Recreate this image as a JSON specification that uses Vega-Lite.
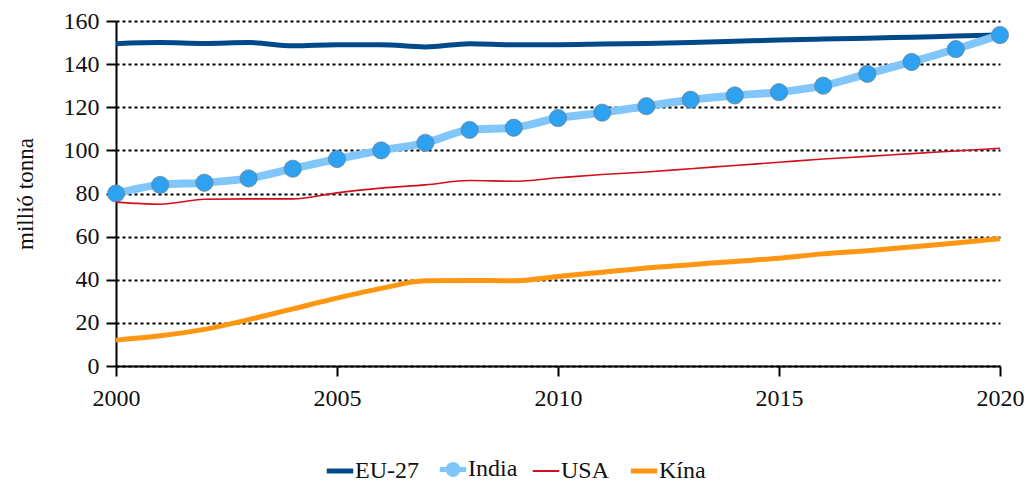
{
  "$schema": "https://vega.github.io/schema/vega-lite/v6.json",
  "autosize": {"type": "none"},
  "width": 884,
  "height": 345,
  "padding": {"left": 116, "top": 21, "right": 28, "bottom": 119},
  "background": "white",
  "config": {
    "view": {"stroke": null},
    "font": "Liberation Serif",
    "axis": {"labelFont": "Liberation Serif", "titleFont": "Liberation Serif", "labelColor": "#111", "titleColor": "#111"},
    "legend": {"labelFont": "Liberation Serif"}
  },
  "data": {"values": [
    {"year": 2000, "series": "EU-27", "value": 149.5},
    {"year": 2001, "series": "EU-27", "value": 150},
    {"year": 2002, "series": "EU-27", "value": 149.6},
    {"year": 2003, "series": "EU-27", "value": 150},
    {"year": 2004, "series": "EU-27", "value": 148.5},
    {"year": 2005, "series": "EU-27", "value": 149},
    {"year": 2006, "series": "EU-27", "value": 149},
    {"year": 2007, "series": "EU-27", "value": 148},
    {"year": 2008, "series": "EU-27", "value": 149.5},
    {"year": 2009, "series": "EU-27", "value": 149},
    {"year": 2010, "series": "EU-27", "value": 149},
    {"year": 2011, "series": "EU-27", "value": 149.3},
    {"year": 2012, "series": "EU-27", "value": 149.6},
    {"year": 2013, "series": "EU-27", "value": 150},
    {"year": 2014, "series": "EU-27", "value": 150.6},
    {"year": 2015, "series": "EU-27", "value": 151.2},
    {"year": 2016, "series": "EU-27", "value": 151.6},
    {"year": 2017, "series": "EU-27", "value": 152},
    {"year": 2018, "series": "EU-27", "value": 152.5},
    {"year": 2019, "series": "EU-27", "value": 153},
    {"year": 2020, "series": "EU-27", "value": 153.5},
    {"year": 2000, "series": "India", "value": 80},
    {"year": 2001, "series": "India", "value": 84},
    {"year": 2002, "series": "India", "value": 85},
    {"year": 2003, "series": "India", "value": 87},
    {"year": 2004, "series": "India", "value": 91.5},
    {"year": 2005, "series": "India", "value": 96},
    {"year": 2006, "series": "India", "value": 100},
    {"year": 2007, "series": "India", "value": 103.5},
    {"year": 2008, "series": "India", "value": 109.5},
    {"year": 2009, "series": "India", "value": 110.5},
    {"year": 2010, "series": "India", "value": 115},
    {"year": 2011, "series": "India", "value": 117.5},
    {"year": 2012, "series": "India", "value": 120.5},
    {"year": 2013, "series": "India", "value": 123.5},
    {"year": 2014, "series": "India", "value": 125.5},
    {"year": 2015, "series": "India", "value": 127},
    {"year": 2016, "series": "India", "value": 130},
    {"year": 2017, "series": "India", "value": 135.5},
    {"year": 2018, "series": "India", "value": 141},
    {"year": 2019, "series": "India", "value": 147},
    {"year": 2020, "series": "India", "value": 153.5},
    {"year": 2000, "series": "USA", "value": 76},
    {"year": 2001, "series": "USA", "value": 75},
    {"year": 2002, "series": "USA", "value": 77.3},
    {"year": 2003, "series": "USA", "value": 77.5},
    {"year": 2004, "series": "USA", "value": 77.5},
    {"year": 2005, "series": "USA", "value": 80.3},
    {"year": 2006, "series": "USA", "value": 82.5},
    {"year": 2007, "series": "USA", "value": 84},
    {"year": 2008, "series": "USA", "value": 86},
    {"year": 2009, "series": "USA", "value": 85.7},
    {"year": 2010, "series": "USA", "value": 87.3},
    {"year": 2011, "series": "USA", "value": 88.8},
    {"year": 2012, "series": "USA", "value": 90},
    {"year": 2013, "series": "USA", "value": 91.5},
    {"year": 2014, "series": "USA", "value": 93},
    {"year": 2015, "series": "USA", "value": 94.5},
    {"year": 2016, "series": "USA", "value": 96},
    {"year": 2017, "series": "USA", "value": 97.2},
    {"year": 2018, "series": "USA", "value": 98.5},
    {"year": 2019, "series": "USA", "value": 99.7},
    {"year": 2020, "series": "USA", "value": 101},
    {"year": 2000, "series": "Kína", "value": 12},
    {"year": 2001, "series": "Kína", "value": 14},
    {"year": 2002, "series": "Kína", "value": 17},
    {"year": 2003, "series": "Kína", "value": 21.5},
    {"year": 2004, "series": "Kína", "value": 26.5},
    {"year": 2005, "series": "Kína", "value": 31.5},
    {"year": 2006, "series": "Kína", "value": 36},
    {"year": 2007, "series": "Kína", "value": 39.5},
    {"year": 2008, "series": "Kína", "value": 39.7},
    {"year": 2009, "series": "Kína", "value": 39.5},
    {"year": 2010, "series": "Kína", "value": 41.5},
    {"year": 2011, "series": "Kína", "value": 43.5},
    {"year": 2012, "series": "Kína", "value": 45.5},
    {"year": 2013, "series": "Kína", "value": 47},
    {"year": 2014, "series": "Kína", "value": 48.5},
    {"year": 2015, "series": "Kína", "value": 50},
    {"year": 2016, "series": "Kína", "value": 52},
    {"year": 2017, "series": "Kína", "value": 53.5},
    {"year": 2018, "series": "Kína", "value": 55.2},
    {"year": 2019, "series": "Kína", "value": 57},
    {"year": 2020, "series": "Kína", "value": 59}
  ]},
  "encoding": {
    "x": {
      "field": "year", "type": "quantitative",
      "scale": {"domain": [2000, 2020], "nice": false, "zero": false},
      "axis": {
        "title": null, "values": [2000, 2005, 2010, 2015, 2020], "format": "d",
        "grid": false, "domainColor": "black", "domainWidth": 2,
        "tickColor": "black", "tickWidth": 2, "tickSize": 10,
        "labelFont": "Liberation Serif", "labelFontSize": 24, "labelPadding": 10, "labelFlush": false
      }
    },
    "y": {
      "field": "value", "type": "quantitative",
      "scale": {"domain": [0, 160], "nice": false},
      "axis": {
        "title": "millió tonna", "titleFont": "Liberation Serif", "titleFontSize": 23, "titleFontWeight": "normal", "titlePadding": 26,
        "values": [0, 20, 40, 60, 80, 100, 120, 140, 160],
        "grid": true, "gridColor": "black", "gridDash": [3, 3], "gridWidth": 2,
        "domainColor": "black", "domainWidth": 2,
        "tickColor": "black", "tickWidth": 2, "tickSize": 10,
        "labelFont": "Liberation Serif", "labelFontSize": 24, "labelPadding": 7
      }
    },
    "color": {
      "field": "series", "type": "nominal",
      "scale": {"domain": ["EU-27", "India", "USA", "Kína"], "range": ["#004a8a", "#80c6fb", "#d0101c", "#ff9612"]},
      "legend": {
        "title": null, "orient": "none", "legendX": 212, "legendY": 436, "direction": "horizontal",
        "symbolType": "stroke", "symbolSize": 700, "symbolStrokeWidth": 4,
        "labelFont": "Liberation Serif", "labelFontSize": 24, "labelColor": "#111", "columnPadding": 10, "labelOffset": 3, "labelLimit": 300,
        "encode": {
          "symbols": {
            "update": {
              "strokeWidth": {"signal": "datum.value === 'USA' ? 2 : 5"},
              "shape": {"signal": "datum.value === 'India' ? 'M-1,0H1M-0.38,0A0.38,0.38 0 1,1 0.38,0A0.38,0.38 0 1,1 -0.38,0Z' : 'stroke'"},
              "fill": {"signal": "datum.value === 'India' ? '#2ea1f0' : 'transparent'"}
            }
          }
        }
      }
    }
  },
  "layer": [
    {
      "transform": [{"filter": "datum.series === 'EU-27'"}],
      "mark": {"type": "line", "interpolate": "monotone", "strokeWidth": 5}
    },
    {
      "transform": [{"filter": "datum.series === 'India'"}],
      "mark": {"type": "line", "interpolate": "monotone", "strokeWidth": 8}
    },
    {
      "transform": [{"filter": "datum.series === 'India'"}],
      "mark": {"type": "point", "filled": true, "size": 300, "fill": "#2ea1f0", "stroke": "#777", "strokeWidth": 0.6, "opacity": 1},
      "encoding": {"color": {"value": "#2ea1f0"}}
    },
    {
      "transform": [{"filter": "datum.series === 'USA'"}],
      "mark": {"type": "line", "interpolate": "monotone", "strokeWidth": 1.6}
    },
    {
      "transform": [{"filter": "datum.series === 'Kína'"}],
      "mark": {"type": "line", "interpolate": "monotone", "strokeWidth": 5}
    }
  ]
}
